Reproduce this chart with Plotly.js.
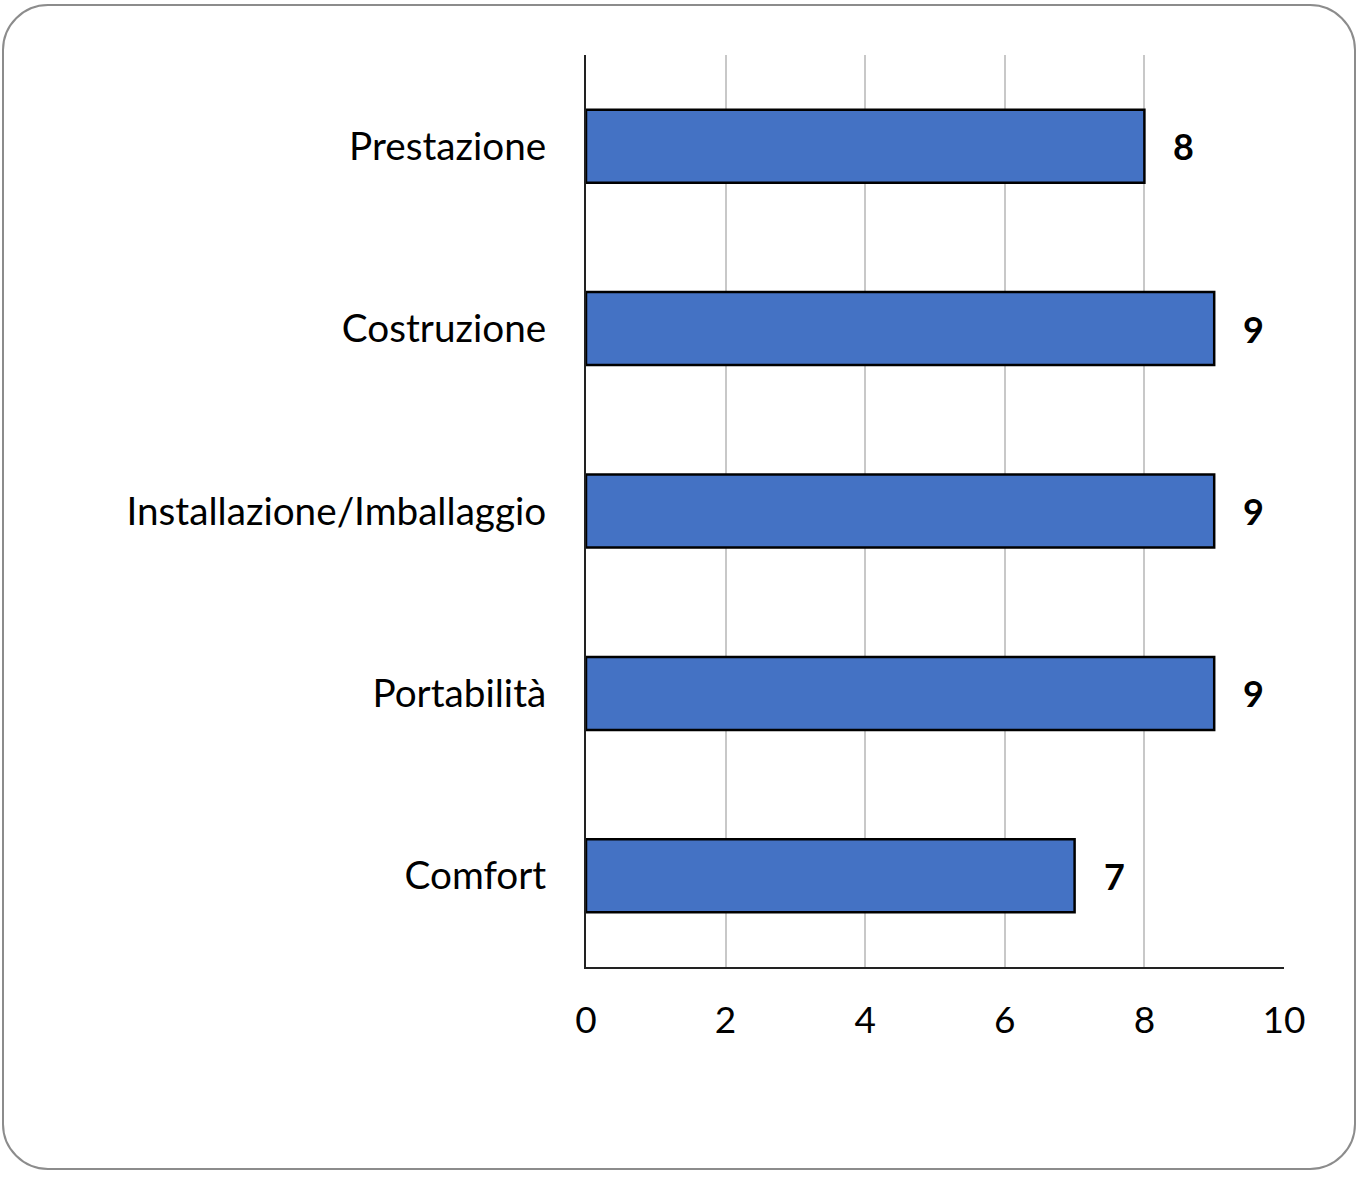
<!DOCTYPE html>
<html><head><meta charset="utf-8">
<script src="https://cdn.plot.ly/plotly-3.0.1.min.js"></script>
<style>
html,body{margin:0;padding:0;background:#fff;}
#wrap{position:relative;width:1361px;height:1177px;}
#chart{width:1361px;height:1177px;}
#frame{position:absolute;left:2px;top:4px;width:1350px;height:1162px;border:2px solid #8c8c8c;border-radius:46px;pointer-events:none;}
</style></head>
<body>
<div id="wrap"><div id="chart"></div><div id="frame"></div></div>
<script>
const categories = ["Prestazione","Costruzione","Installazione/Imballaggio","Portabilità","Comfort"];
const values = [8, 9, 9, 9, 7];
const xTicks = [0, 2, 4, 6, 8, 10];

const font = "Lato, 'Open Sans', sans-serif";
const trace = {
  type: "bar", orientation: "h",
  y: categories, x: values,
  width: 0.4,
  marker: {color: "#4472C4", line: {color: "#000", width: 2.5}},
  hoverinfo: "none"
};
const annotations = categories.map((c, i) => ({
  x: values[i], y: c, xref: "x", yref: "y",
  text: "<b>" + values[i] + "</b>", showarrow: false,
  xanchor: "left", xshift: 27, yshift: 0,
  font: {family: font, size: 36, color: "#000"}
}));
const layout = {
  width: 1361, height: 1177,
  margin: {l: 586, r: 77, t: 55, b: 210},
  paper_bgcolor: "#fff", plot_bgcolor: "#fff",
  showlegend: false,
  xaxis: {
    range: [0, 10], tickvals: xTicks, ticktext: xTicks.map(String),
    showgrid: true, gridcolor: "#c8c8c8", gridwidth: 2,
    showline: true, linecolor: "#222", linewidth: 2,
    zeroline: false, ticks: "", ticklabelstandoff: 20,
    tickfont: {family: font, size: 37, color: "#000"}, fixedrange: true
  },
  yaxis: {
    categoryorder: "array", categoryarray: categories, autorange: "reversed",
    showgrid: false, showline: true, linecolor: "#222", linewidth: 2,
    zeroline: false, ticks: "", ticklabelstandoff: 30,
    tickfont: {family: font, size: 38.7, color: "#000"}, fixedrange: true
  },
  annotations: annotations
};
Plotly.newPlot("chart", [trace], layout, {displayModeBar: false, staticPlot: true});
</script>
</body></html>
